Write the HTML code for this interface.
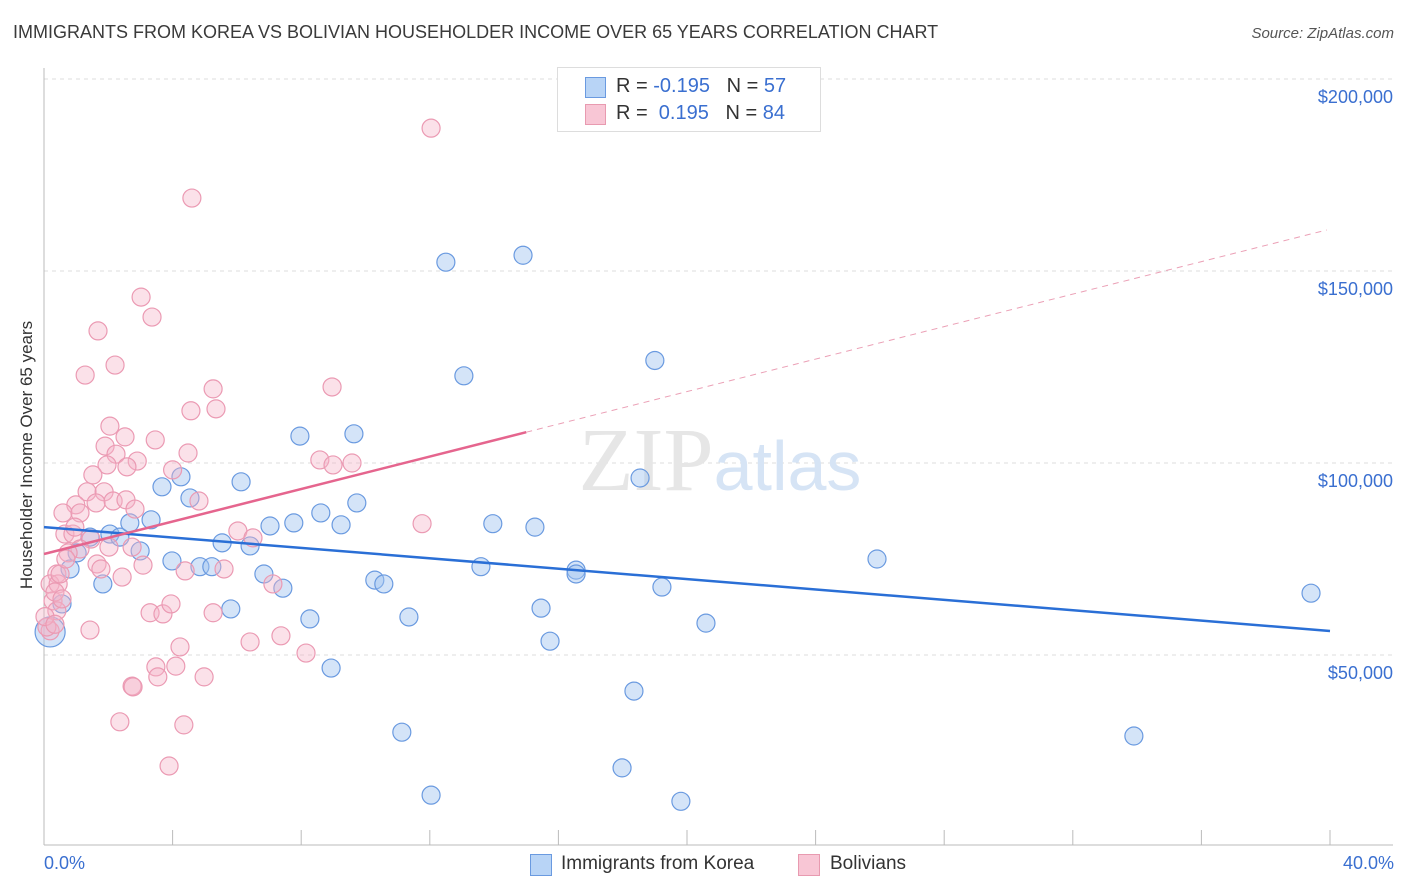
<!DOCTYPE html>
<html><head><meta charset="utf-8"><style>
body{margin:0;background:#fff;font-family:"Liberation Sans",sans-serif;}
#wrap{position:relative;width:1406px;height:892px;overflow:hidden;}
.t{position:absolute;white-space:nowrap;}
</style></head><body>
<div id="wrap">
<div class="t" style="left:13px;top:22px;font-size:18px;color:#3a3a3a;">IMMIGRANTS FROM KOREA VS BOLIVIAN HOUSEHOLDER INCOME OVER 65 YEARS CORRELATION CHART</div>
<div class="t" style="right:12px;top:25px;font-size:15px;font-style:italic;color:#555;">Source: ZipAtlas.com</div>
<div class="t" style="left:27px;top:455px;font-size:17px;color:#333;transform:translate(-50%,-50%) rotate(-90deg);">Householder Income Over 65 years</div>
<svg id="svg" width="1406" height="892" style="position:absolute;left:0;top:0"></svg>
<div style="position:absolute;left:557px;top:67px;width:262px;height:63px;border:1px solid #ddd;background:#fff;font-size:20px;">
 <div style="position:absolute;left:27px;top:9px;width:19px;height:19px;background:#b8d4f6;border:1px solid #6a9ae0;"></div>
 <div class="t" style="left:58px;top:7px;color:#333;">R = <span style="color:#3a6fd0">-0.195</span>&nbsp;&nbsp;&nbsp;N = <span style="color:#3a6fd0">57</span></div>
 <div style="position:absolute;left:27px;top:36px;width:19px;height:19px;background:#f8c6d5;border:1px solid #e89ab0;"></div>
 <div class="t" style="left:58px;top:34px;color:#333;">R = &nbsp;<span style="color:#3a6fd0">0.195</span>&nbsp;&nbsp;&nbsp;N = <span style="color:#3a6fd0">84</span></div>
</div>
<div class="t" style="left:44px;top:853px;font-size:18px;color:#3a6fd0;">0.0%</div>
<div class="t" style="right:12px;top:853px;font-size:18px;color:#3a6fd0;">40.0%</div>
<div style="position:absolute;left:530px;top:854px;width:20px;height:20px;background:#b8d4f6;border:1px solid #6a9ae0;"></div>
<div class="t" style="left:561px;top:853px;font-size:19px;color:#333;">Immigrants from Korea</div>
<div style="position:absolute;left:798px;top:854px;width:20px;height:20px;background:#f8c6d5;border:1px solid #e89ab0;"></div>
<div class="t" style="left:830px;top:853px;font-size:19px;color:#333;">Bolivians</div>
</div>
<script>
const yTicks=[50000,100000,150000,200000];
const yTickLabels=["$50,000","$100,000","$150,000","$200,000"];
const xTicks=[0,4,8,12,16,20,24,28,32,36,40];
const koreaX=[0.19,0.56,0.81,1.03,1.43,1.83,2.05,2.36,2.67,2.99,3.33,3.67,3.98,4.26,4.54,4.85,5.22,5.54,5.81,6.13,6.41,6.84,7.03,7.43,7.77,7.96,8.27,8.61,8.93,9.24,9.64,9.73,10.29,10.57,11.13,11.35,12.04,12.50,13.06,13.59,13.96,14.90,15.27,15.46,15.74,16.55,16.55,17.98,18.35,18.54,19.00,19.22,19.81,20.59,25.91,33.90,39.41];
const koreaY=[56.0,63.3,72.4,76.6,80.7,68.5,81.5,80.7,84.4,77.1,85.2,93.8,74.5,96.4,90.9,73.0,73.0,79.2,62.0,95.1,78.4,71.1,83.6,67.4,84.4,107.0,59.4,87.0,46.6,83.9,107.6,89.6,69.5,68.5,29.9,59.9,13.5,152.3,122.7,73.0,84.2,154.1,83.3,62.2,53.6,72.1,71.1,20.6,40.6,96.1,126.7,67.7,11.9,58.3,75.0,28.9,66.1];
const bolX=[3.02,3.36,1.68,2.21,1.28,5.26,8.96,4.57,5.35,2.05,2.52,3.46,1.90,2.24,4.48,2.90,1.96,2.58,8.58,8.99,9.58,4.00,1.52,1.34,1.87,1.62,2.15,2.55,0.99,0.59,1.12,2.83,4.82,0.65,0.90,1.46,2.02,2.74,6.03,6.50,1.12,1.65,1.77,3.08,2.43,4.39,5.60,0.40,0.19,0.44,0.28,0.19,1.43,3.30,3.70,3.95,5.26,7.12,6.41,7.37,8.15,4.23,3.48,4.10,3.54,4.98,2.74,2.77,2.36,4.35,3.89,12.04,4.60,11.76,0.50,0.40,0.09,0.75,0.96,0.34,0.68,0.03,0.56,0.34];
const bolY=[143.2,138.0,134.4,125.5,122.9,119.3,119.8,113.6,114.1,109.6,106.8,106.0,104.4,102.3,102.6,100.5,99.5,99.0,100.8,99.5,100.0,98.2,96.9,92.5,92.5,89.6,90.1,90.4,89.1,87.0,87.0,88.0,90.1,81.5,81.5,80.2,78.1,78.1,82.3,80.5,77.6,73.7,72.4,73.4,70.3,71.9,72.4,71.1,68.5,68.5,64.1,56.3,56.5,61.0,60.7,63.3,61.0,68.5,53.4,55.0,50.5,52.1,46.9,47.1,44.3,44.3,41.9,41.7,32.6,31.8,21.1,187.2,169.0,84.2,71.1,61.5,57.3,76.6,83.3,66.4,75.0,60.0,64.6,58.0];
const koreaLine=[83.3,56.25];
const bolLine=[76.3,160.9];
const bolSolidEnd=15.0;
const L=44,R=1330,B=847;
const xs=v=>L+v/40*(R-L);
const ys=v=>B-v/50000*192;
const yk=v=>ys(v*1000);
const svg=document.getElementById('svg');
const NS='http://www.w3.org/2000/svg';
function mk(t,a){const e=document.createElementNS(NS,t);for(const k in a)e.setAttribute(k,a[k]);svg.appendChild(e);return e;}
yTicks.forEach((v,i)=>{
 const g=mk('line',{x1:L,x2:1393,y1:ys(v),y2:ys(v),stroke:'#ddd','stroke-dasharray':'4,4'});
 
 
 const t=mk('text',{x:1393,y:ys(v)+24,'text-anchor':'end','font-size':18,fill:'#3a6fd0','font-family':'Liberation Sans, sans-serif'});
 t.textContent=yTickLabels[i];
 
 
});
const ax=mk('line',{x1:L,x2:L,y1:68,y2:845,stroke:'#bbb'});


const bx=mk('line',{x1:L,x2:1393,y1:845,y2:845,stroke:'#bbb'});


xTicks.forEach(v=>{const t=mk('line',{x1:xs(v),x2:xs(v),y1:830,y2:845,stroke:'#bbb'});
 
 });
const wm=mk('text',{x:720,y:490,'text-anchor':'middle','font-size':90,fill:'#e6e6e6','font-family':'Liberation Serif, serif'});
wm.innerHTML='ZIP<tspan fill="#d6e4f5" font-family="Liberation Sans, sans-serif" font-size="70">atlas</tspan>';


koreaX.forEach((x,i)=>{const c=mk('circle',{cx:xs(x),cy:yk(koreaY[i]),r:i==0?15:9,fill:'rgba(160,196,240,0.45)',stroke:'#6a9ae0','stroke-width':1.2});
 
 });
bolX.forEach((x,i)=>{const c=mk('circle',{cx:xs(x),cy:yk(bolY[i]),r:9,fill:'rgba(246,180,200,0.4)',stroke:'#eb9ab3','stroke-width':1.2});
 
 });
const kl=mk('line',{x1:xs(0),y1:yk(koreaLine[0]),x2:xs(40),y2:yk(koreaLine[1]),stroke:'#2a6fd6','stroke-width':2.5});


const bAt=x=>bolLine[0]+(bolLine[1]-bolLine[0])*x/40;
const bl=mk('line',{x1:xs(0),y1:yk(bAt(0)),x2:xs(bolSolidEnd),y2:yk(bAt(bolSolidEnd)),stroke:'#e5658e','stroke-width':2.5});


const bd=mk('line',{x1:xs(bolSolidEnd),y1:yk(bAt(bolSolidEnd)),x2:xs(39.9),y2:yk(bAt(39.9)),stroke:'#eba0b6','stroke-width':1,'stroke-dasharray':'6,5'});


</script>
</body></html>
